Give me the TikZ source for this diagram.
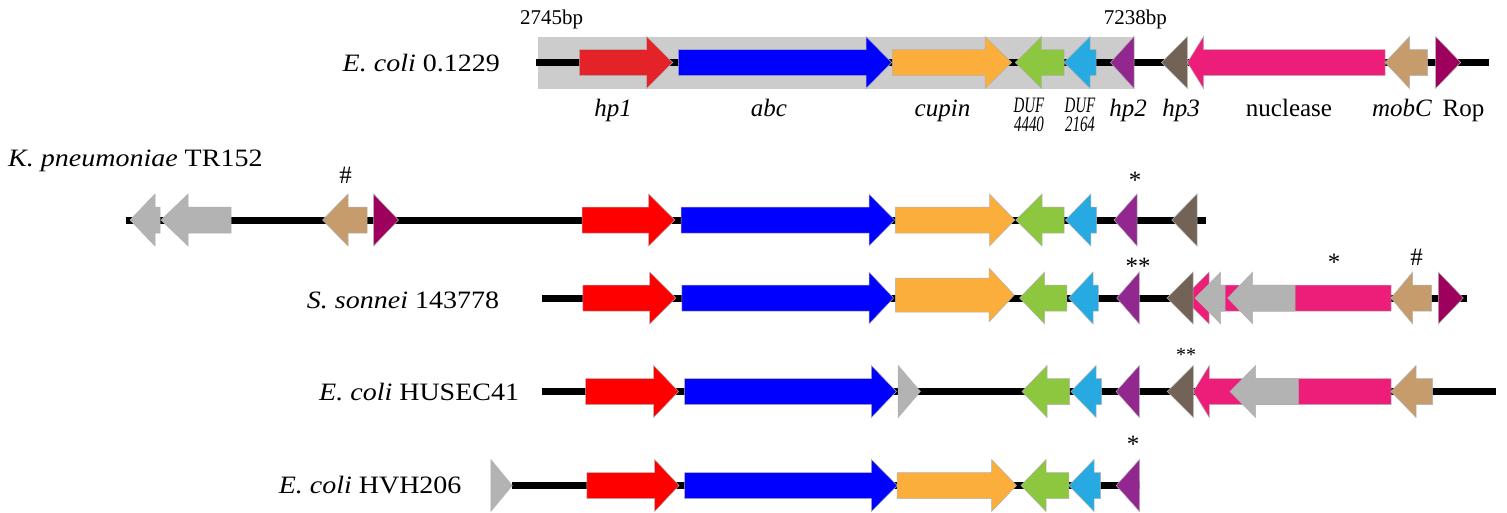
\documentclass[tikz,border=0pt]{standalone}
\usepackage{graphicx}
\usepackage{fontspec}
\setmainfont{Liberation Serif}
\newfontfamily\widefont{Liberation Serif}[FakeStretch=1.12]
\definecolor{cbox}{HTML}{CCCCCC}
\definecolor{cred1}{HTML}{E42328}
\definecolor{cred}{HTML}{FF0000}
\definecolor{cblue}{HTML}{0000FF}
\definecolor{corange}{HTML}{FBAE3B}
\definecolor{cgreen}{HTML}{8DC63F}
\definecolor{ccyan}{HTML}{27AAE1}
\definecolor{cpurple}{HTML}{92278F}
\definecolor{cbrown}{HTML}{736357}
\definecolor{cpink}{HTML}{ED1E79}
\definecolor{ctan}{HTML}{C69C6D}
\definecolor{cmaroon}{HTML}{9E005D}
\definecolor{cgray}{HTML}{B3B3B3}
\tikzset{
  backbone/.style={line width=7pt, black},
  gene/.style={draw=black!30, line width=0.5pt},
  sp/.style={font=\widefont\fontsize{25}{30}\selectfont, anchor=base east, inner sep=0pt},
  gl/.style={font=\fontsize{25}{30}\selectfont, anchor=base, inner sep=0pt},
  dl/.style={font=\fontsize{22}{19}\selectfont, anchor=north, inner sep=0pt, align=center},
  bp/.style={font=\fontsize{21}{25}\selectfont, anchor=base west, inner sep=0pt},
  mk/.style={font=\fontsize{25}{28}\selectfont, anchor=base, inner sep=0pt},
}
\newcommand\narrowit[1]{\scalebox{0.68}[1]{\itshape #1}}
% arrow: colour, tail x, head-base x, tip x, y, body half height, head half height
\newcommand\garrowx[7]{\path[gene,fill=#1] (#2,{#5-#6}) -- (#3,{#5-#6}) -- (#3,{#5-#7}) -- (#4,#5) -- (#3,{#5+#7}) -- (#3,{#5+#6}) -- (#2,{#5+#6}) -- cycle;}
\newcommand\garrow[5]{\garrowx{#1}{#2}{#3}{#4}{#5}{13}{26}}
% triangle: colour, base x, tip x, y
\newcommand\gtri[4]{\path[gene,fill=#1] (#2,{#4-26}) -- (#3,#4) -- (#2,{#4+26}) -- cycle;}
\begin{document}
\begin{tikzpicture}[x=1pt,y=-1pt]
\useasboundingbox (0,0) rectangle (1507,512);
% ---------------- row 1: E. coli 0.1229
\fill[cbox] (538,37) rectangle (1134,89);
\coordinate (r1s) at (536,62.5);
\coordinate (r1e) at (1489,62.5);
\draw[backbone] (r1s) -- (r1e);
\garrow{cred1}{579.3}{646.7}{672.7}{62.5}
\garrow{cblue}{678.3}{866}{891.7}{62.5}
\garrow{corange}{892.3}{985}{1011.7}{62.5}
\garrow{cgreen}{1064}{1041.5}{1015.3}{62.5}
\garrow{ccyan}{1096}{1090}{1064}{62.5}
\gtri{cpurple}{1134}{1110.4}{62.5}
\gtri{cbrown}{1187.4}{1161.5}{62.5}
\garrow{cpink}{1385}{1203.5}{1187.4}{62.5}
\garrow{ctan}{1427.7}{1409.6}{1385}{62.5}
\gtri{cmaroon}{1435.5}{1460.7}{62.5}
\node[sp] (l1) at (500,71.7) {\itshape E. coli\/\upshape{} 0.1229};
\node[bp] (bp1) at (520,24) {2745bp};
\node[bp] (bp2) at (1103.7,24) {7238bp};
\node[gl] (g1) at (613,116) {\itshape hp1};
\node[gl] (g2) at (769,116) {\itshape abc};
\node[gl] (g3) at (942.5,116) {\itshape cupin};
\node[dl] (g4) at (1029,98) {\narrowit{DUF}\\\narrowit{4440}};
\node[dl] (g5) at (1080,98) {\narrowit{DUF}\\\narrowit{2164}};
\node[gl] (g6) at (1128,116) {\itshape hp2};
\node[gl] (g7) at (1181,116) {\itshape hp3};
\node[gl] (g8) at (1289,116) {nuclease};
\node[gl] (g9) at (1402,116) {\itshape mobC};
\node[gl] (g10) at (1463.5,116) {Rop};
% ---------------- row 2: K. pneumoniae TR152
\coordinate (r2s) at (125.7,220);
\coordinate (r2e) at (1206,220);
\draw[backbone] (r2s) -- (r2e);
\garrow{cgray}{160}{155}{130}{220}
\garrow{cgray}{231}{188}{161}{220}
\garrow{ctan}{367}{348}{322.6}{220}
\gtri{cmaroon}{373.6}{398.5}{220}
\garrow{cred}{582}{648.6}{674.8}{220}
\garrow{cblue}{681}{869}{894.6}{220}
\garrow{corange}{895.4}{989.5}{1014.8}{220}
\garrow{cgreen}{1064}{1042}{1015.7}{220}
\garrow{ccyan}{1096.7}{1090.8}{1065.5}{220}
\gtri{cpurple}{1137}{1114}{220}
\gtri{cbrown}{1197}{1171.8}{220}
\node[sp, anchor=base west] (l2) at (8,166.5) {\itshape K. pneumoniae\/\upshape{} TR152};
\node[mk] (m2a) at (345.5,183) {\#};
\node[mk] (m2b) at (1135,188) {*};
% ---------------- row 3: S. sonnei 143778
\coordinate (r3s) at (541.8,298);
\coordinate (r3e) at (1466.7,298);
\draw[backbone] (r3s) -- (r3e);
\garrow{cred}{582.9}{649.6}{675.7}{298}
\garrow{cblue}{681.8}{869}{893.6}{298}
\garrowx{corange}{895.4}{989}{1014.3}{295}{17}{27}
\garrow{cgreen}{1066.8}{1044.6}{1019.6}{298}
\garrow{ccyan}{1098.3}{1093}{1068.6}{298}
\gtri{cpurple}{1139.3}{1116.7}{298}
\garrow{cpink}{1391}{1209}{1183}{298}
\gtri{cbrown}{1193}{1167}{298}
\garrow{cgray}{1225}{1220.7}{1195}{298}
\garrow{cgray}{1295}{1252.7}{1227.7}{298}
\garrow{ctan}{1431.7}{1412.7}{1391}{298}
\gtri{cmaroon}{1438.3}{1463.3}{298}
\node[sp] (l3) at (499.3,308) {\itshape S. sonnei\/\upshape{} 143778};
\node[mk] (m3a) at (1138,274) {**};
\node[mk] (m3b) at (1334,270) {*};
\node[mk] (m3c) at (1416.7,265) {\#};
% ---------------- row 4: E. coli HUSEC41
\coordinate (r4s) at (541.8,391.5);
\coordinate (r4e) at (1496,391.5);
\draw[backbone] (r4s) -- (r4e);
\garrow{cred}{585.7}{653.6}{678.6}{391.5}
\garrow{cblue}{684.6}{871.4}{896.4}{391.5}
\gtri{cgray}{898.2}{920.4}{391.5}
\garrow{cgreen}{1069.6}{1047}{1022}{391.5}
\garrow{ccyan}{1101.7}{1096}{1071}{391.5}
\gtri{cpurple}{1139.3}{1116}{391.5}
\garrow{cpink}{1391}{1209.3}{1193.3}{391.5}
\gtri{cbrown}{1193.3}{1167.3}{391.5}
\garrow{cgray}{1298.3}{1255.7}{1230}{391.5}
\garrow{ctan}{1432.7}{1416}{1391}{391.5}
\node[sp] (l4) at (519.3,400) {\itshape E. coli\/\upshape{} HUSEC41};
\node[mk, font=\fontsize{20}{22}\selectfont] (m4a) at (1186,361) {**};
% ---------------- row 5: E. coli HVH206
\coordinate (r5s) at (512,485.5);
\coordinate (r5e) at (1139.5,485.5);
\draw[backbone] (r5s) -- (r5e);
\gtri{cgray}{490.8}{512.3}{485.5}
\garrow{cred}{586.9}{654.6}{679}{485.5}
\garrow{cblue}{684.7}{871.4}{897.2}{485.5}
\garrow{corange}{897.2}{991.6}{1016.6}{485.5}
\garrow{cgreen}{1068.8}{1046}{1021}{485.5}
\garrow{ccyan}{1100.7}{1094}{1069}{485.5}
\gtri{cpurple}{1139.5}{1116.2}{485.5}
\node[sp] (l5) at (461.7,493) {\itshape E. coli\/\upshape{} HVH206};
\node[mk] (m5a) at (1133,452) {*};
\end{tikzpicture}
\end{document}
